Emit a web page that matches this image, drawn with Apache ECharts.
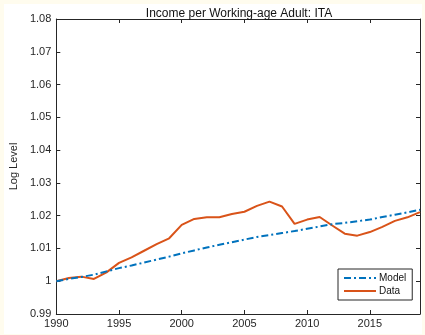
<!DOCTYPE html>
<html>
<head>
<meta charset="utf-8">
<script src="https://cdn.jsdelivr.net/npm/echarts@6/dist/echarts.min.js"></script>
<style>
  html, body { margin: 0; padding: 0; background: #fffcee; }
  #chart { width: 425px; height: 335px; }
</style>
</head>
<body>
<div id="chart"></div>
<script>
// Log level of income per working-age adult, Italy
const years = [1990, 1991, 1992, 1993, 1994, 1995, 1996, 1997, 1998, 1999,
  2000, 2001, 2002, 2003, 2004, 2005, 2006, 2007, 2008, 2009,
  2010, 2011, 2012, 2013, 2014, 2015, 2016, 2017, 2018, 2019];

const modelValues = [1.0000, 1.0007, 1.0013, 1.0020, 1.0030, 1.0040, 1.0048, 1.0057, 1.0066, 1.0075,
  1.0085, 1.0094, 1.0103, 1.0111, 1.0119, 1.0127, 1.0135, 1.0141, 1.0147, 1.0153,
  1.0160, 1.0167, 1.0174, 1.0178, 1.0183, 1.0188, 1.0196, 1.0203, 1.0210, 1.0218];

const dataValues = [1.0000, 1.0010, 1.0014, 1.0007, 1.0027, 1.0056, 1.0073, 1.0093, 1.0113, 1.0131,
  1.0172, 1.0190, 1.0195, 1.0195, 1.0205, 1.0212, 1.0230, 1.0243, 1.0228, 1.0175,
  1.0188, 1.0196, 1.0170, 1.0145, 1.0139, 1.0150, 1.0166, 1.0184, 1.0195, 1.0211];

const xTickStep = 5;
const yMin = 0.99, yMax = 1.08, yStep = 0.01;

const chart = echarts.init(document.getElementById('chart'), null, { renderer: 'canvas' });

const axisColor = '#262626';
const font = 'Liberation Sans, Arial, Helvetica, sans-serif';

const pairs = (vals) => years.map((y, i) => [y, vals[i]]);

chart.setOption({
  animation: false,
  backgroundColor: 'transparent',
  graphic: [{
    type: 'rect',
    shape: { x: 4, y: 4, width: 418, height: 330 },
    style: { fill: '#ffffff' },
    z: -10
  }],
  title: {
    text: 'Income per Working-age Adult: ITA',
    left: 234, top: 3, textAlign: 'center',
    textStyle: { fontFamily: font, fontSize: 12, fontWeight: 'normal', color: '#111' }
  },
  grid: { left: 48, right: 5, top: 19, bottom: 21, containLabel: false },
  xAxis: [{
    type: 'value', min: 1990, max: 2019, interval: xTickStep,
    axisLine: { show: true, lineStyle: { color: axisColor, width: 1 } },
    axisTick: { show: true, inside: true, length: 4, lineStyle: { color: axisColor } },
    axisLabel: {
      color: axisColor, fontFamily: font, fontSize: 11, margin: 4, showMaxLabel: false,
      formatter: (v) => String(v)
    },
    splitLine: { show: false }
  }, {
    type: 'value', min: 1990, max: 2019, interval: xTickStep, position: 'top',
    axisLine: { show: true, lineStyle: { color: axisColor, width: 1 } },
    axisTick: { show: true, inside: true, length: 4, lineStyle: { color: axisColor } },
    axisLabel: { show: false }, splitLine: { show: false }
  }],
  yAxis: [{
    type: 'value', min: yMin, max: yMax, interval: yStep,
    name: 'Log Level', nameLocation: 'middle', nameGap: 34,
    nameTextStyle: { fontFamily: font, fontSize: 11, color: axisColor },
    axisLine: { show: true, lineStyle: { color: axisColor, width: 1 } },
    axisTick: { show: true, inside: true, length: 4, lineStyle: { color: axisColor } },
    axisLabel: {
      color: axisColor, fontFamily: font, fontSize: 11, margin: 5,
      formatter: (v) => String(parseFloat(v.toFixed(2)))
    },
    splitLine: { show: false }
  }, {
    type: 'value', min: yMin, max: yMax, interval: yStep, position: 'right',
    axisLine: { show: true, lineStyle: { color: axisColor, width: 1 } },
    axisTick: { show: true, inside: true, length: 4, lineStyle: { color: axisColor } },
    axisLabel: { show: false }, splitLine: { show: false }
  }],
  legend: {
    orient: 'vertical', left: 338, top: 269,
    backgroundColor: '#ffffff', borderColor: axisColor, borderWidth: 1, borderRadius: 0,
    padding: [4, 6, 4, 5], itemGap: 3, itemWidth: 32, itemHeight: 12,
    itemStyle: { opacity: 0 },
    textStyle: { fontFamily: font, fontSize: 10, color: '#111', padding: [0, 0, 0, -2] },
    data: [{ name: 'Model' }, { name: 'Data' }]
  },
  series: [{
    name: 'Model', type: 'line', data: pairs(modelValues),
    showSymbol: false, symbol: 'none', z: 3,
    lineStyle: { color: '#0072BD', width: 2, type: [7, 3, 2, 3] },
    itemStyle: { color: '#0072BD' }
  }, {
    name: 'Data', type: 'line', data: pairs(dataValues),
    showSymbol: false, symbol: 'none', z: 2,
    lineStyle: { color: '#D95319', width: 2 },
    itemStyle: { color: '#D95319' }
  }]
});
</script>
</body>
</html>
